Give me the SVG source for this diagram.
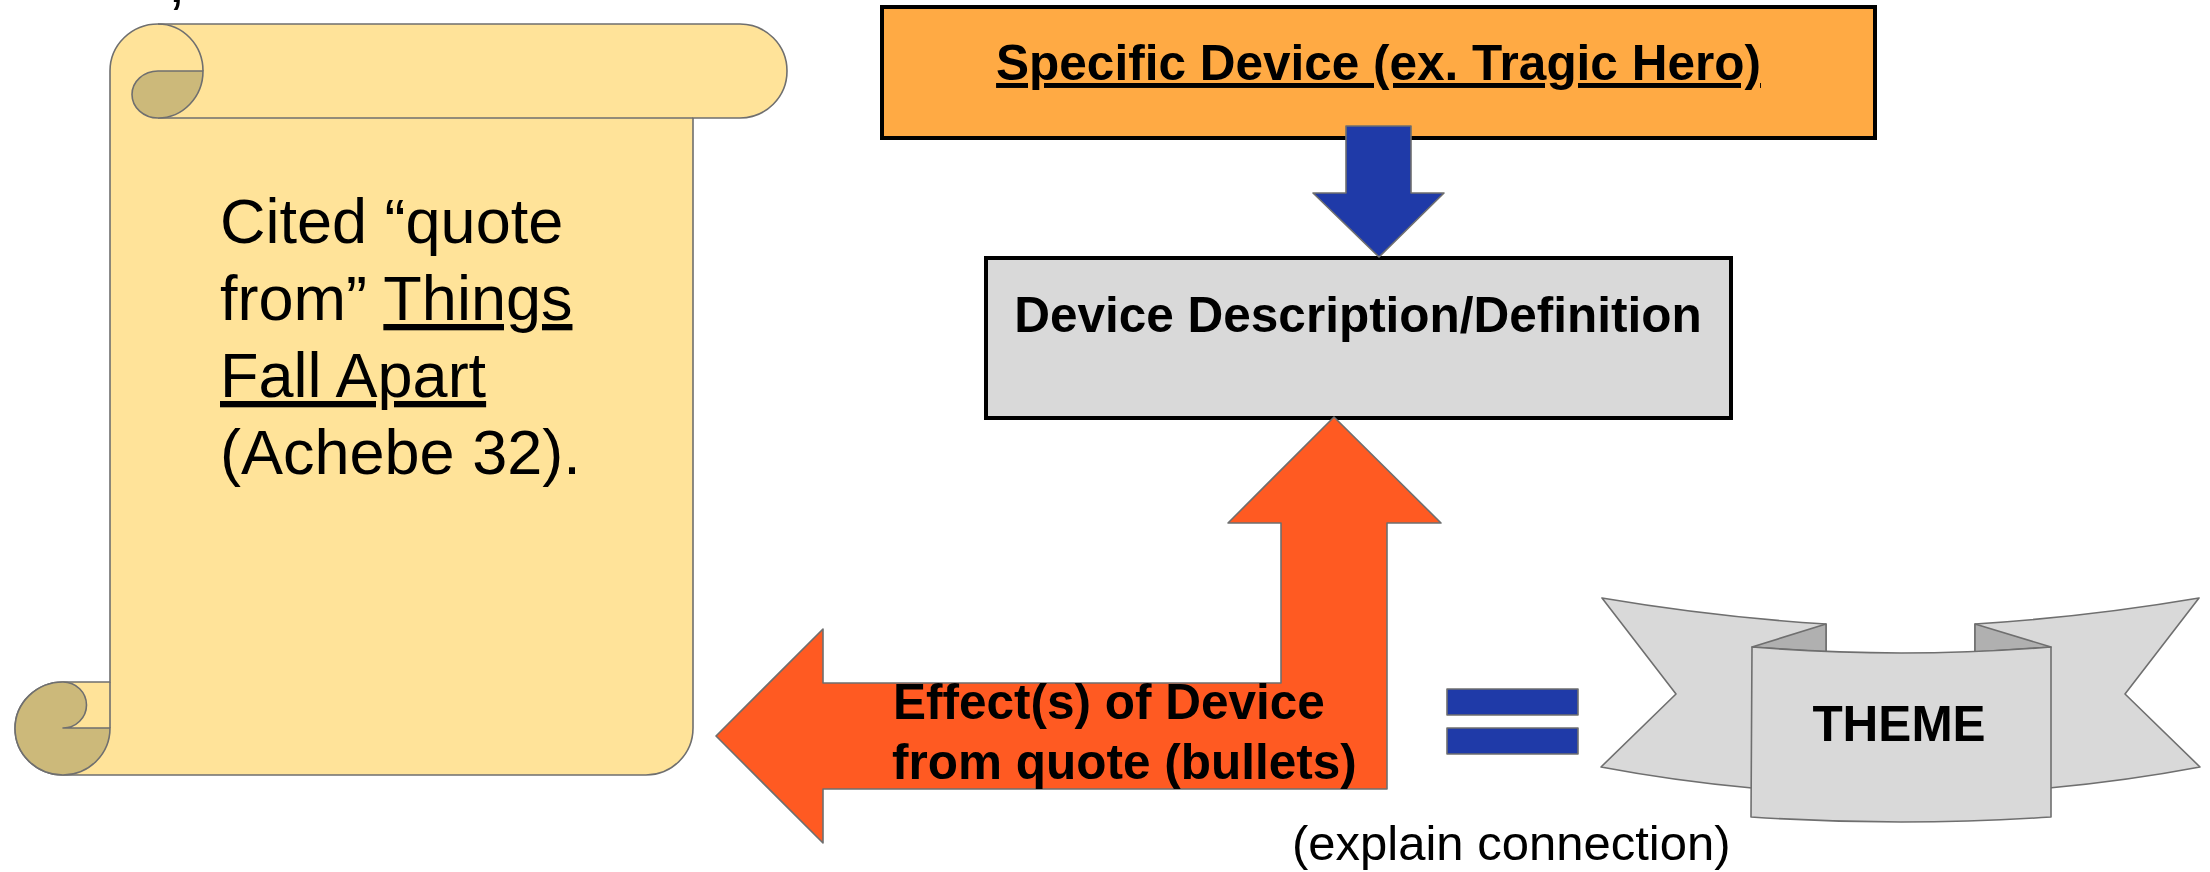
<svg xmlns="http://www.w3.org/2000/svg" width="2210" height="872" viewBox="0 0 2210 872">
<style>
.edge{stroke:#6F6F6F;stroke-width:1.6;stroke-linejoin:round}
.paper{fill:#FFE399}
.curl{fill:#CCB97A}
.box{stroke:#000;stroke-width:4}
.bold{font-family:"Liberation Sans",Arial,sans-serif;font-weight:bold;font-size:49.5px;fill:#000}
.reg{font-family:"Liberation Sans",Arial,sans-serif;font-size:63px;fill:#000}
.ribbon{fill:#D9D9D9}
.fold{fill:#B0B0B0}
</style>
<rect width="2210" height="872" fill="#FFFFFF"/>

<text class="reg" x="168" y="2">,</text>

<g id="scroll">
  <path class="paper edge" d="M110,71 A48,47 0 0 1 158,24 L740,24 A47,47 0 0 1 740,118 L693,118 L693,728 A47,47 0 0 1 646,775 L63,775 A48,46.5 0 0 1 63,682 L110,682 Z"/>
  <path class="edge" fill="none" d="M158,118 L693,118"/>
  <path class="edge" fill="none" d="M158,24 A45,47 0 0 1 203,71"/>
  <path class="curl edge" d="M158,71 L203,71 A45,47 0 0 1 158,118 A26,23.5 0 0 1 158,71 Z"/>
  <path class="edge" fill="none" d="M110,682 L110,728"/>
  <path class="curl edge" d="M63,682 A23.5,23 0 0 1 63,728 L110,728 A47,47 0 0 1 63,775 A48,46.5 0 0 1 63,682 Z"/>
  <text class="reg" x="220" y="243">Cited “quote</text>
  <text class="reg" x="220" y="320">from” <tspan text-decoration="underline">Things</tspan></text>
  <text class="reg" x="220" y="397" text-decoration="underline">Fall Apart</text>
  <text class="reg" x="220" y="474">(Achebe 32).</text>
</g>

<g id="specific-device">
  <rect class="box" x="882" y="7" width="993" height="131" fill="#FFAA44"/>
  <text class="bold" x="1378.5" y="80" text-anchor="middle" text-decoration="underline">Specific Device (ex. Tragic Hero)</text>
</g>

<g id="device-description">
  <rect class="box" x="986" y="258" width="745" height="160" fill="#D9D9D9"/>
  <text class="bold" x="1358" y="332" text-anchor="middle">Device Description/Definition</text>
</g>

<g id="connectors">
  <polygon class="edge" fill="#1F3AA8" points="1346,126 1411,126 1411,193 1444,193 1379,257 1313,193 1346,193"/>
</g>

<g id="effects">
  <polygon class="edge" fill="#FF5A22" points="1334,417 1441,523 1387,523 1387,789 823,789 823,843 716,736 823,629 823,683 1281,683 1281,523 1228,523"/>
  <text class="bold" x="893" y="719">Effect(s) of Device</text>
  <text class="bold" x="892" y="779">from quote (bullets)</text>
</g>

<g id="equals">
  <rect class="edge" fill="#1F3AA8" x="1447" y="689" width="131" height="26"/>
  <rect class="edge" fill="#1F3AA8" x="1447" y="728" width="131" height="26"/>
</g>

<g id="theme">
  <path class="ribbon edge" d="M1602,598 Q1714,617 1826,624 L1826,700 L1752,700 L1752,788 Q1675,781 1601,767 L1676,694 Z"/>
  <path class="ribbon edge" d="M2199,598 Q2087,617 1975,624 L1975,700 L2049,700 L2049,788 Q2126,781 2200,767 L2125,694 Z"/>
  <polygon class="fold edge" points="1752,647 1826,624 1826,652"/>
  <polygon class="fold edge" points="2051,647 1975,624 1975,652"/>
  <path class="ribbon edge" d="M1752,647 Q1901,659 2051,647 L2051,817 Q1901,827 1751,817 Z"/>
  <text class="bold" x="1899" y="741" text-anchor="middle">THEME</text>
</g>

<g id="explain-label">
  <text class="reg" style="font-size:49px" x="1292" y="860">(explain connection)</text>
</g>
</svg>
